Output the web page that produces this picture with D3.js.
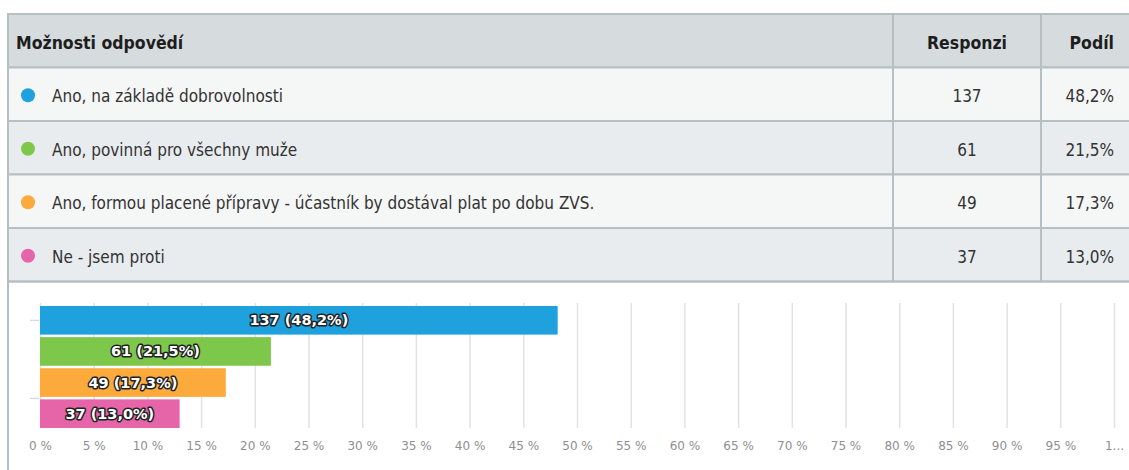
<!DOCTYPE html>
<html>
<head>
<meta charset="utf-8">
<script src="https://cdn.jsdelivr.net/npm/d3@7"></script>
<style>
  body { margin: 0; background: #fff; }
  svg text { font-family: "Liberation Sans Narrow", "DejaVu Sans Condensed", sans-serif; }
</style>
</head>
<body>
<svg id="chart" width="1129" height="470"></svg>
<script>
// data
var options = [
  'Ano, na základě dobrovolnosti',
  'Ano, povinná pro všechny muže',
  'Ano, formou placené přípravy - účastník by dostával plat po dobu ZVS.',
  'Ne - jsem proti'
];
var counts = [137, 61, 49, 37];
var shares = [48.2, 21.5, 17.3, 13.0];
var colors = ['#1ea1dd', '#7dc74a', '#fdaa3c', '#e565a8'];
var headers = ['Možnosti odpovědí', 'Responzi', 'Podíl'];
var tickValues = d3.range(0, 101, 5);

var width = 1129,
    height = 470;

var svg = d3.select('#chart');
var fmt = function (v) { return v.toFixed(1).replace('.', ',') + '%'; };

// --- table ---
var tLeft = 8, tTop = 14, rowH = 53.5, col1 = 893, col2 = 1041, tRight = 1140;
var rows = [{ header: true }].concat(options.map(function (o, i) {
  return { label: o, count: counts[i], share: shares[i], color: colors[i], i: i };
}));

var row = svg.selectAll('g.row')
  .data(rows)
  .enter().append('g')
  .attr('class', 'row')
  .attr('transform', function (d, i) { return 'translate(0,' + (tTop + i * rowH) + ')'; });

row.append('rect')
  .attr('x', tLeft)
  .attr('width', tRight - tLeft)
  .attr('height', rowH)
  .attr('fill', function (d) {
    if (d.header) return '#d6dbde';
    return d.i % 2 === 0 ? '#f5f6f6' : '#e9ecee';
  })
  .attr('stroke', '#b8bfc3')
  .attr('stroke-width', 2);

row.append('line')
  .attr('x1', col1).attr('x2', col1)
  .attr('y1', 0).attr('y2', rowH)
  .attr('stroke', '#b8bfc3').attr('stroke-width', 2);
row.append('line')
  .attr('x1', col2).attr('x2', col2)
  .attr('y1', 0).attr('y2', rowH)
  .attr('stroke', '#b8bfc3').attr('stroke-width', 2);

var ty = rowH / 2 + 8;
var hdr = row.filter(function (d) { return d.header; });
hdr.append('text').attr('x', 16).attr('y', ty)
  .attr('font-size', 17.5).attr('font-weight', 'bold').attr('fill', '#1e1e1e')
  .text(headers[0]);
hdr.append('text').attr('x', (col1 + col2) / 2).attr('y', ty)
  .attr('text-anchor', 'middle')
  .attr('font-size', 17.5).attr('font-weight', 'bold').attr('fill', '#1e1e1e')
  .text(headers[1]);
hdr.append('text').attr('x', 1114).attr('y', ty)
  .attr('text-anchor', 'end')
  .attr('font-size', 17.5).attr('font-weight', 'bold').attr('fill', '#1e1e1e')
  .text(headers[2]);

var body = row.filter(function (d) { return !d.header; });
body.append('circle')
  .attr('cx', 28).attr('cy', rowH / 2 + 1).attr('r', 7)
  .attr('fill', function (d) { return d.color; });
body.append('text').attr('x', 52).attr('y', ty)
  .attr('font-size', 17).attr('fill', '#333')
  .text(function (d) { return d.label; });
body.append('text').attr('x', (col1 + col2) / 2).attr('y', ty)
  .attr('text-anchor', 'middle')
  .attr('font-size', 17).attr('fill', '#333')
  .text(function (d) { return d.count; });
body.append('text').attr('x', 1114).attr('y', ty)
  .attr('text-anchor', 'end')
  .attr('font-size', 17).attr('fill', '#333')
  .text(function (d) { return fmt(d.share); });

// --- chart box ---
var boxTop = tTop + rows.length * rowH;
svg.append('path')
  .attr('d', 'M' + tLeft + ',' + height + 'V' + boxTop + 'H' + tRight)
  .attr('fill', 'none')
  .attr('stroke', '#b8bfc3')
  .attr('stroke-width', 2);

var margin = { top: 306, left: 40, bottom: 428 };
var x = d3.scaleLinear().domain([0, 100]).range([margin.left, 1114]);
var y = d3.scaleBand().domain(d3.range(options.length))
  .range([margin.top, margin.bottom]).paddingInner(0.08);

// gridlines + tick labels
var axis = svg.append('g')
  .attr('transform', 'translate(0,' + margin.bottom + ')')
  .call(d3.axisBottom(x)
    .tickValues(tickValues)
    .tickSize(-(margin.bottom - margin.top + 3))
    .tickPadding(13)
    .tickFormat(function (d) { return d === 100 ? '1...' : d + ' %'; }));
axis.select('.domain').remove();
axis.selectAll('.tick line').attr('stroke', '#e2e2e2').attr('stroke-width', 1.5);
axis.selectAll('.tick text')
  .attr('fill', '#8f8f8f')
  .attr('font-size', 12)
  .style('font-family', '"DejaVu Sans", sans-serif');

// small category ticks on left
svg.selectAll('line.ytick')
  .data([0, 3])
  .enter().append('line')
  .attr('class', 'ytick')
  .attr('x1', 30).attr('x2', 39)
  .attr('y1', function (d) { return d === 0 ? y(0) + y.bandwidth() / 2 : y(3) - 1; })
  .attr('y2', function (d) { return d === 0 ? y(0) + y.bandwidth() / 2 : y(3) - 1; })
  .attr('stroke', '#ccd');

// bars
svg.selectAll('rect.bar')
  .data(shares)
  .enter().append('rect')
  .attr('class', 'bar')
  .attr('x', x(0))
  .attr('y', function (d, i) { return y(i); })
  .attr('width', function (d) { return x(d) - x(0); })
  .attr('height', y.bandwidth())
  .attr('fill', function (d, i) { return colors[i]; });

svg.selectAll('text.barlabel')
  .data(shares)
  .enter().append('text')
  .attr('class', 'barlabel')
  .attr('x', function (d) { return (x(0) + x(d)) / 2; })
  .attr('y', function (d, i) { return y(i) + y.bandwidth() / 2 + 5; })
  .attr('text-anchor', 'middle')
  .attr('font-size', 14.5)
  .attr('font-weight', 'bold')
  .style('font-family', '"DejaVu Sans", sans-serif')
  .attr('fill', '#fff')
  .attr('stroke', '#222')
  .attr('stroke-width', 3)
  .attr('paint-order', 'stroke')
  .attr('stroke-linejoin', 'round')
  .text(function (d, i) { return counts[i] + ' (' + fmt(d) + ')'; });
</script>
</body>
</html>
